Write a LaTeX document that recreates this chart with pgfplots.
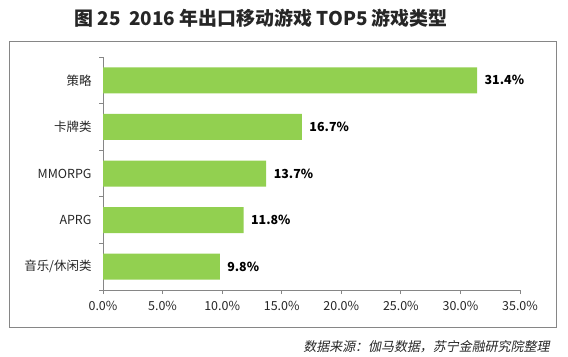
\documentclass[border=0pt]{standalone}
\usepackage{fontspec}
\setmainfont{Noto Sans CJK SC}
\newfontfamily\cjkit[FakeSlant=0.2]{Noto Sans CJK SC}
\usepackage{pgfplots}
\pgfplotsset{compat=1.18}
\definecolor{bargreen}{HTML}{92D050}
\definecolor{axisgray}{HTML}{868686}
\definecolor{txt}{HTML}{262626}
\begin{document}
\begin{tikzpicture}[x=1bp,y=1bp]
\path (0,0) rectangle (568,355);
\draw[axisgray, line width=1bp] (9.5,28) rectangle (556,313);
\node[font=\fontsize{19}{21}\selectfont\bfseries, text=txt] at (261,337) {图 25\ \ 2016 年出口移动游戏 TOP5 游戏类型};
\node[anchor=east, font=\cjkit\fontsize{13}{15}\selectfont, text=txt] at (553,8) {数据来源：伽马数据，苏宁金融研究院整理};
\begin{axis}[
  at={(103bp,65bp)}, anchor=south west, scale only axis,
  width=417bp, height=233bp,
  xbar, bar width=26bp,
  xmin=0, xmax=35, ymin=-0.5, ymax=4.5, y dir=reverse,
  axis lines*=left,
  axis line style={axisgray, line width=0.8bp},
  xtick={0,5,...,35},
  xticklabel={\pgfmathprintnumber[fixed,fixed zerofill,precision=1]{\tick}\%},
  /pgf/number format/assume math mode=true,
  ytick={0,1,2,3,4},
  yticklabels={策略,卡牌类,MMORPG,APRG,音乐/休闲类},
  minor ytick={-0.5,0.5,1.5,2.5,3.5,4.5},
  major y tick style={draw=none},
  minor y tick style={axisgray, line width=0.8bp},
  major x tick style={axisgray, line width=0.8bp},
  tick align=outside,
  major tick length=4bp, minor tick length=4bp,
  ticklabel style={font=\fontsize{12.5}{14}\selectfont, text=txt},
  xticklabel style={yshift=-4bp},
  yticklabel style={xshift=-4bp},
  nodes near coords={\pgfmathprintnumber[fixed,fixed zerofill,precision=1]{\pgfplotspointmeta}\%},
  nodes near coords style={font=\bfseries\fontsize{12.5}{14}\selectfont, text=black, anchor=west, xshift=4bp},
]
\addplot[fill=bargreen, draw=none] coordinates {(31.4,0) (16.7,1) (13.7,2) (11.8,3) (9.8,4)};
\end{axis}
\end{tikzpicture}
\end{document}
